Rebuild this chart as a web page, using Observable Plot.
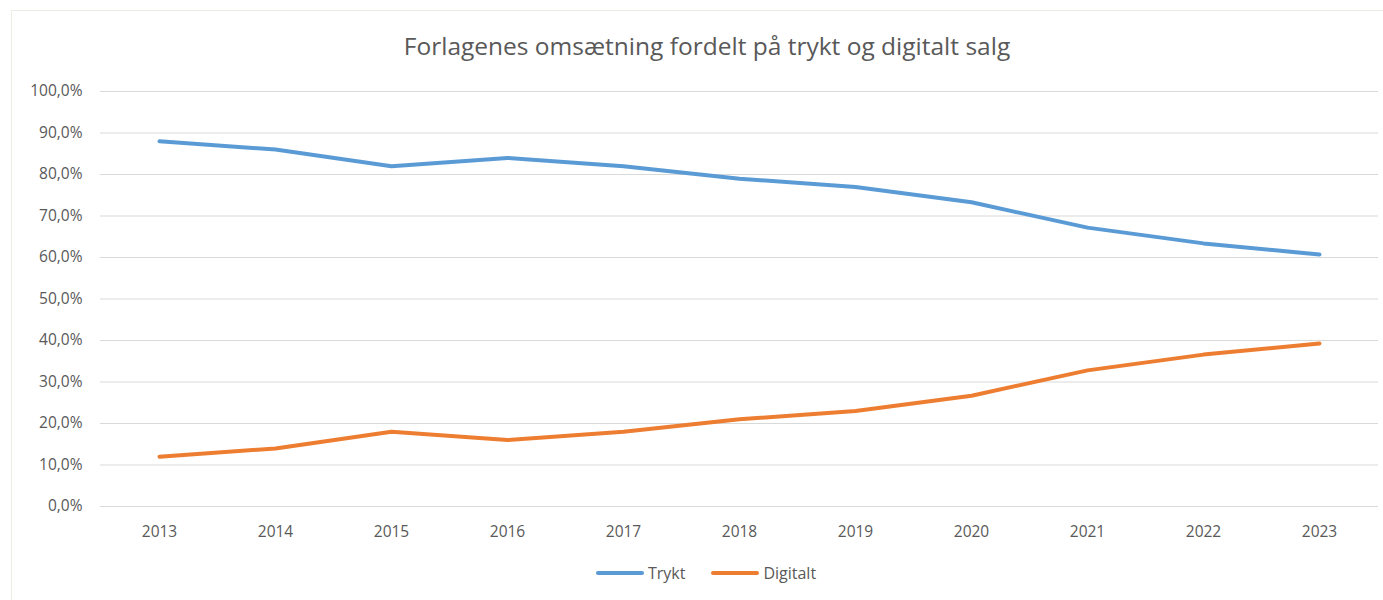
<!DOCTYPE html>
<html>
<head>
<meta charset="utf-8">
<script src="https://cdn.jsdelivr.net/npm/d3@7"></script>
<script src="https://cdn.jsdelivr.net/npm/@observablehq/plot@0.6"></script>
<style>
  html, body { margin: 0; padding: 0; background: #fff; }
  #wrap { position: relative; width: 1383px; height: 600px; overflow: hidden; font-family: "Open Sans", "DejaVu Sans", sans-serif; color: #595959; }
  #frame { position: absolute; left: 11px; top: 10px; width: 1400px; height: 620px; border: 1px solid #EDEDE4; box-sizing: border-box; }
  #title { position: absolute; left: 0; width: 1414px; top: 29px; text-align: center; font-size: 24.5px; color: #595959; }
  #chart { position: absolute; left: 0; top: 70px; }
  #legend { position: absolute; top: 562px; left: 0; width: 1412px; display: flex; justify-content: center; gap: 26px; font-size: 16px; color: #595959; }
  .item { display: flex; align-items: center; gap: 4px; }
  .sw { width: 48px; height: 4px; border-radius: 2px; }
</style>
</head>
<body>
<div id="wrap">
  <div id="frame"></div>
  <div id="title">Forlagenes omsætning fordelt på trykt og digitalt salg</div>
  <div id="chart"></div>
  <div id="legend"></div>
</div>
<script>
const years = ["2013","2014","2015","2016","2017","2018","2019","2020","2021","2022","2023"];
const trykt = [88.0, 86.0, 82.0, 84.0, 82.0, 79.0, 77.0, 73.3, 67.2, 63.4, 60.7];
const digitalt = [12.0, 14.0, 18.0, 16.0, 18.0, 21.0, 23.0, 26.7, 32.8, 36.6, 39.3];
const seriesNames = ["Trykt", "Digitalt"];
const seriesColors = ["#5B9BD5", "#ED7D31"];
const yTicks = [0,10,20,30,40,50,60,70,80,90,100];

const rows = [];
years.forEach((y, i) => {
  rows.push({year: y, value: trykt[i], series: "Trykt"});
  rows.push({year: y, value: digitalt[i], series: "Digitalt"});
});

const fmt = d => d.toFixed(1).replace(".", ",") + "%";

const plot = Plot.plot({
  width: 1383,
  height: 480,
  marginTop: 21,
  marginBottom: 44,
  marginLeft: 100,
  marginRight: 5,
  style: { fontFamily: "'Open Sans', 'DejaVu Sans', sans-serif", fontSize: "15.5px", color: "#595959", background: "transparent" },
  x: { type: "point", domain: years, padding: 0.5, label: null },
  y: { domain: [0, 100], label: null },
  color: { domain: seriesNames, range: seriesColors },
  marks: [
    Plot.ruleY(yTicks, { stroke: "#D9D9D9", strokeWidth: 1 }),
    Plot.axisY(yTicks, { tickSize: 0, tickPadding: 18, tickFormat: fmt, label: null, fill: "#595959" }),
    Plot.axisX({ tickSize: 0, tickPadding: 19, label: null, fill: "#595959" }),
    Plot.line(rows, { x: "year", y: "value", z: "series", stroke: "series", strokeWidth: 4, strokeLinecap: "round", strokeLinejoin: "round" })
  ]
});
document.getElementById("chart").appendChild(plot);

const legend = document.getElementById("legend");
seriesNames.forEach((n, i) => {
  const it = document.createElement("div");
  it.className = "item";
  const sw = document.createElement("div");
  sw.className = "sw";
  sw.style.background = seriesColors[i];
  const t = document.createElement("span");
  t.textContent = n;
  it.appendChild(sw); it.appendChild(t);
  legend.appendChild(it);
});
</script>
</body>
</html>
